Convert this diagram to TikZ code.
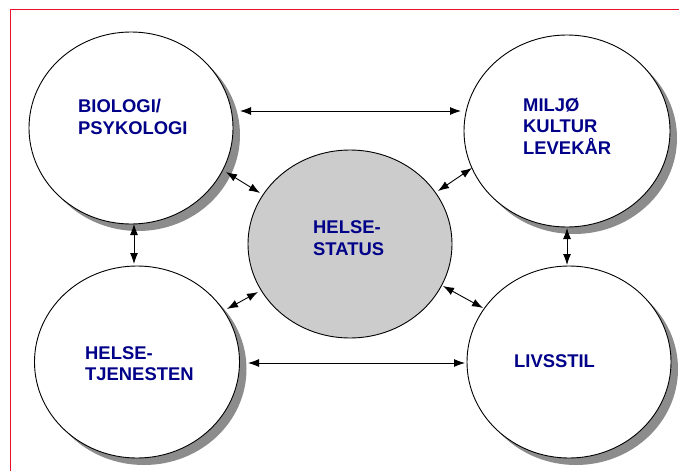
\documentclass[tikz,border=0pt]{standalone}
\usepackage{fontspec}
\setmainfont{Liberation Sans}
\usetikzlibrary{shapes.geometric,arrows.meta}
\definecolor{txtblue}{HTML}{000088}
\definecolor{framered}{HTML}{E8102E}
\definecolor{shadegray}{HTML}{8C8C8C}
\definecolor{centergray}{HTML}{CCCCCC}
\tikzset{
  circ/.style={ellipse, draw=black, line width=0.9pt, inner sep=0pt, minimum width=204pt, minimum height=192pt},
  outercirc/.style={circ, fill=white},
  centercirc/.style={circ, fill=centergray, minimum height=188pt},
  lbl/.style={anchor=base west, inner sep=0pt, text=txtblue, font=\bfseries\fontsize{18.4}{22}\selectfont},
  arr/.style={{Latex[length=11pt,width=8pt]}-{Latex[length=11pt,width=8pt]}, line width=0.9pt},
}
\begin{document}
\begin{tikzpicture}[x=1pt,y=-1pt]
\useasboundingbox (0,0) rectangle (679,471);
\draw[framered, line width=1pt] (10,471) -- (10,9.5) -- (679,9.5);

\fill[shadegray] (138,135) ellipse [x radius=102pt, y radius=96pt];
\fill[shadegray] (574,138) ellipse [x radius=103pt, y radius=96pt];
\fill[shadegray] (144,369) ellipse [x radius=102.5pt, y radius=96pt];
\fill[shadegray] (576,369) ellipse [x radius=102pt, y radius=96pt];

\node[outercirc] (bio) at (131,128) {};
\node[outercirc, minimum width=206pt] (mil) at (567,131) {};
\node[outercirc, minimum width=205pt] (tj) at (137,362) {};
\node[outercirc] (liv) at (569,362) {};
\node[centercirc] (hs) at (350,244) {};

\node[lbl] (tbio) at (78,112) {\begin{tabular}[t]{@{}l@{}}BIOLOGI/\\PSYKOLOGI\end{tabular}};
\node[lbl, font=\bfseries\fontsize{18.4}{21}\selectfont] (tmil) at (523,111) {\begin{tabular}[t]{@{}l@{}}MILJØ\\KULTUR\\LEVEKÅR\end{tabular}};
\node[lbl] (ths) at (313,233) {\begin{tabular}[t]{@{}l@{}}HELSE-\\STATUS\end{tabular}};
\node[lbl, font=\bfseries\fontsize{18.4}{21}\selectfont] (ttj) at (85,359) {\begin{tabular}[t]{@{}l@{}}HELSE-\\TJENESTEN\end{tabular}};
\node[lbl] (tliv) at (514,367) {LIVSSTIL};

\coordinate (bio-mil-a) at (240,111);
\coordinate (bio-mil-b) at (461,111);
\coordinate (tj-liv-a) at (248,363);
\coordinate (tj-liv-b) at (465,363);
\coordinate (bio-tj-a) at (134,224);
\coordinate (bio-tj-b) at (134,264);
\coordinate (mil-liv-a) at (567,228);
\coordinate (mil-liv-b) at (567,265);
\coordinate (bio-hs-a) at (226,172);
\coordinate (bio-hs-b) at (260,193);
\coordinate (mil-hs-a) at (472,168);
\coordinate (mil-hs-b) at (438,191);
\coordinate (tj-hs-a) at (227,309);
\coordinate (tj-hs-b) at (258,292);
\coordinate (liv-hs-a) at (483,308);
\coordinate (liv-hs-b) at (443,286);

\draw[arr] (bio-mil-a) -- (bio-mil-b);
\draw[arr] (tj-liv-a) -- (tj-liv-b);
\draw[arr] (bio-tj-a) -- (bio-tj-b);
\draw[arr] (mil-liv-a) -- (mil-liv-b);
\draw[arr] (bio-hs-a) -- (bio-hs-b);
\draw[arr] (mil-hs-a) -- (mil-hs-b);
\draw[arr] (tj-hs-a) -- (tj-hs-b);
\draw[arr] (liv-hs-a) -- (liv-hs-b);
\end{tikzpicture}
\end{document}
